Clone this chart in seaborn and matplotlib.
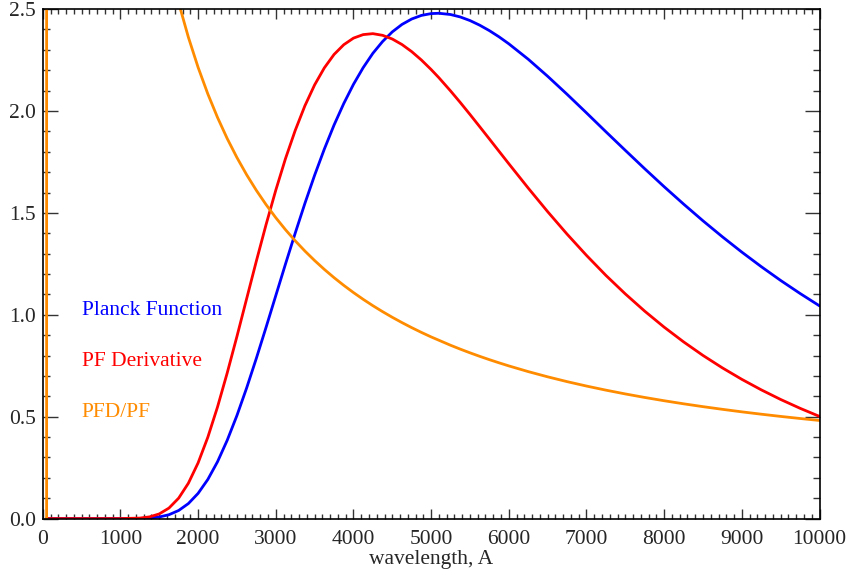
import numpy as np
import pandas as pd
import seaborn as sns
import matplotlib
matplotlib.use("Agg")
import matplotlib.pyplot as plt
from matplotlib.ticker import MultipleLocator, FormatStrFormatter

# ---- data ----
wl = [50, 500, 1000, 1250, 1375, 1500, 1625, 1750, 1875, 2000, 2125, 2250, 2375,
      2500, 2625, 2750, 2875, 3000, 3125, 3250, 3375, 3500, 3625, 3750, 3875,
      4000, 4125, 4250, 4375, 4500, 4625, 4750, 4875, 5000, 5100, 5250, 5375,
      5500, 5625, 5750, 5875, 6000, 6250, 6500, 6750, 7000, 7250, 7500, 7750,
      8000, 8250, 8500, 8750, 9000, 9250, 9500, 9750, 10000]
planck = [0.0, 0.0, 0.00001, 0.00067, 0.0026, 0.0078, 0.01897, 0.0397, 0.07365,
          0.1237, 0.1918, 0.2788, 0.3843, 0.5057, 0.6409, 0.7864, 0.9384, 1.0938,
          1.2489, 1.4003, 1.5466, 1.6846, 1.8129, 1.9308, 2.0364, 2.1306, 2.2125,
          2.2831, 2.3409, 2.3882, 2.4248, 2.4514, 2.4690, 2.4779, 2.4795, 2.4734,
          2.4614, 2.4438, 2.4211, 2.3943, 2.3637, 2.3297, 2.2540, 2.1704, 2.0820,
          1.9907, 1.8981, 1.8068, 1.7165, 1.6284, 1.5433, 1.4611, 1.3826, 1.3075,
          1.2362, 1.1684, 1.1045, 1.0438]
deriv = [0.0, 0.0, 0.00006, 0.00236, 0.00834, 0.02285, 0.05157, 0.1003, 0.1735,
         0.2732, 0.3988, 0.5475, 0.7148, 0.8936, 1.0788, 1.2635, 1.4423, 1.6111,
         1.7662, 1.9043, 2.0256, 2.1280, 2.2115, 2.2773, 2.3251, 2.3575, 2.3748,
         2.3795, 2.3713, 2.3532, 2.3261, 2.2913, 2.2501, 2.2035, 2.1633, 2.0985,
         2.0418, 1.9831, 1.9231, 1.8627, 1.8019, 1.7413, 1.6218, 1.5061, 1.3958,
         1.2915, 1.1933, 1.1024, 1.0177, 0.9393, 0.8671, 0.8005, 0.7394, 0.6832,
         0.6317, 0.5844, 0.5411, 0.5013]
wl_ratio = [50, 52, 100, 250, 500, 750, 1000, 1250, 1375, 1500, 1625, 1750, 1875,
            2000, 2125, 2250, 2375, 2500, 2625, 2750, 2875, 3000, 3125, 3250,
            3375, 3500, 3625, 3750, 3875, 4000, 4125, 4250, 4375, 4500, 4625,
            4750, 4875, 5000, 5250, 5375, 5500, 5625, 5750, 5875, 6000, 6250,
            6500, 6750, 7000, 7250, 7500, 7750, 8000, 8250, 8500, 8750, 9000,
            9250, 9500, 9750, 10000]
ratio = [0.0, 85.0, 44.28, 17.71, 8.857, 5.905, 4.428, 3.543, 3.2207, 2.952,
         2.7253, 2.5305, 2.3618, 2.2142, 2.0840, 1.9683, 1.8646, 1.7715, 1.6871,
         1.6105, 1.5406, 1.4765, 1.4175, 1.3632, 1.3128, 1.2662, 1.2228, 1.1823,
         1.1445, 1.1091, 1.0759, 1.0447, 1.0154, 0.9877, 0.9616, 0.9369, 0.9135,
         0.8914, 0.8505, 0.8315, 0.8134, 0.7962, 0.7798, 0.7642, 0.7492, 0.7212,
         0.6956, 0.6720, 0.6503, 0.6302, 0.6116, 0.5943, 0.5782, 0.5632, 0.5492,
         0.5361, 0.5237, 0.5122, 0.5013, 0.4911, 0.4814]

labels = ["Planck Function", "PF Derivative", "PFD/PF"]
colors = ["#0000FF", "#FF0000", "#FF8C00"]
label_y = [1.0, 0.75, 0.5]
label_x = 500
xticks = list(range(0, 10001, 1000))

df_b = pd.DataFrame({"wl": wl, "val": planck})
df_r = pd.DataFrame({"wl": wl, "val": deriv})
df_o = pd.DataFrame({"wl": wl_ratio, "val": ratio})

sns.set_style("white")
plt.rcParams["font.family"] = ["Liberation Serif", "DejaVu Serif"]
FS = 15.5

fig = plt.figure(figsize=(8.48, 5.72), dpi=100)
ax = fig.add_axes([0.0504, 0.0934, 0.9160, 0.8907])

for d, c in zip([df_b, df_r, df_o], colors):
    sns.lineplot(data=d, x="wl", y="val", ax=ax, color=c, linewidth=2.0,
                 estimator=None, sort=False)

ax.set_xlim(0, 10000)
ax.set_ylim(0, 2.5)
ax.set_xticks(xticks)
ax.set_xticklabels([str(t) for t in xticks])
ax.xaxis.set_minor_locator(MultipleLocator(100))
ax.yaxis.set_major_locator(MultipleLocator(0.5))
ax.yaxis.set_minor_locator(MultipleLocator(0.1))
ax.yaxis.set_major_formatter(FormatStrFormatter("%.1f"))

ax.tick_params(axis="x", which="major", direction="in", length=7.2, width=1.0,
               top=True, bottom=True, labelsize=FS, pad=8.5, color="#333333")
ax.tick_params(axis="x", which="minor", direction="in", length=3.6, width=1.0,
               top=True, bottom=True, color="#333333")
ax.tick_params(axis="y", which="major", direction="in", length=10.8, width=1.0,
               left=True, right=True, labelsize=FS, pad=5, color="#333333")
ax.tick_params(axis="y", which="minor", direction="in", length=5.0, width=1.0,
               left=True, right=True, color="#333333")

for s in ax.spines.values():
    s.set_color("black")
    s.set_linewidth(1.2)

ax.set_xlabel("wavelength, A", fontsize=FS, labelpad=0.5)
ax.set_ylabel("")

for t, c, y in zip(labels, colors, label_y):
    ax.text(label_x, y, t, color=c, fontsize=FS, ha="left", va="baseline")

fig.savefig("out.png", dpi=100)
